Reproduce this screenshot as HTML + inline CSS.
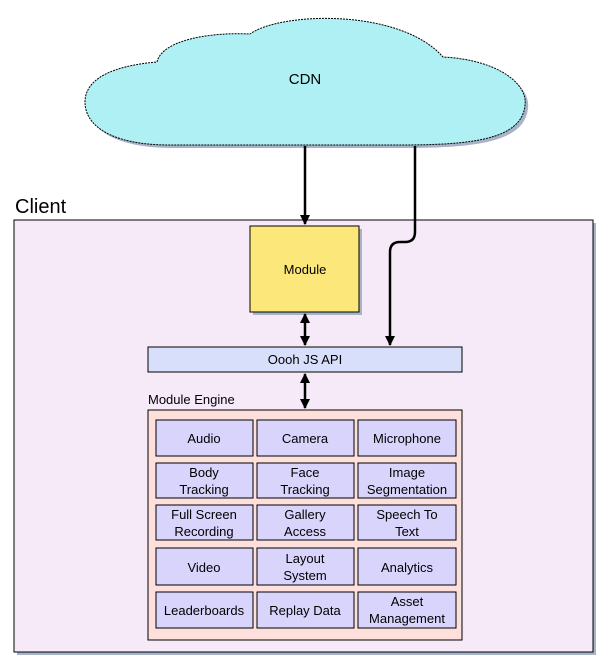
<!DOCTYPE html>
<html><head><style>
body{margin:0;background:#fff;width:606px;height:666px;overflow:hidden}
svg text{font-family:"Liberation Sans",sans-serif;fill:#000}
</style></head><body>
<svg width="606" height="666" viewBox="0 0 606 666" xmlns="http://www.w3.org/2000/svg">
<defs>
<marker id="a" viewBox="0 0 10 10" refX="9" refY="5" markerWidth="4" markerHeight="4" orient="auto-start-reverse"><path d="M0,0 L10,5 L0,10 Z" fill="#000"/></marker>
</defs>
<g transform="translate(3,3)" fill="#a9b3c8"><path d="M157,62 C162,40 210,32 250,34 C280,12 400,8 443,57 C500,60 528,85 525,105 C522,140 470,145 400,145 L170,145 C110,145 85,125 85,102 C85,80 110,66 157,62 Z"/></g>
<path d="M157,62 C162,40 210,32 250,34 C280,12 400,8 443,57 C500,60 528,85 525,105 C522,140 470,145 400,145 L170,145 C110,145 85,125 85,102 C85,80 110,66 157,62 Z" fill="#aef0f4" stroke="#000" stroke-width="1" stroke-dasharray="2,1"/>
<text x="305" y="84" font-size="15" text-anchor="middle">CDN</text>
<text x="15" y="213" font-size="20">Client</text>
<rect x="17" y="223" width="579" height="432" fill="#a9b3c8"/>
<rect x="14" y="220" width="579" height="432" fill="#f6eaf8" stroke="#000" stroke-width="1"/>
<rect x="253" y="229" width="109" height="86" fill="#a9b3c8"/>
<rect x="250" y="226" width="109" height="86" fill="#fbe77a" stroke="#000"/>
<text x="305" y="274" font-size="13" text-anchor="middle">Module</text>
<rect x="148" y="347" width="314" height="25" fill="#d8dffa" stroke="#000"/>
<text x="305" y="364" font-size="13" text-anchor="middle">Oooh JS API</text>
<text x="148" y="404" font-size="13">Module Engine</text>
<rect x="148" y="410" width="314" height="230" fill="#fde0db" stroke="#000"/>
<g fill="#d9d4fc" stroke="#000">
<rect x="156" y="420" width="97" height="36"/><rect x="257" y="420" width="97" height="36"/><rect x="358" y="420" width="98" height="36"/>
<rect x="156" y="463" width="97" height="35"/><rect x="257" y="463" width="97" height="35"/><rect x="358" y="463" width="98" height="35"/>
<rect x="156" y="505" width="97" height="35"/><rect x="257" y="505" width="97" height="35"/><rect x="358" y="505" width="98" height="35"/>
<rect x="156" y="548" width="97" height="37"/><rect x="257" y="548" width="97" height="37"/><rect x="358" y="548" width="98" height="37"/>
<rect x="156" y="592" width="97" height="36"/><rect x="257" y="592" width="97" height="36"/><rect x="358" y="592" width="98" height="36"/>
</g>
<g font-size="13" text-anchor="middle">
<text x="204" y="443">Audio</text><text x="305" y="443">Camera</text><text x="407" y="443">Microphone</text>
<text x="204" y="477">Body</text><text x="204" y="494">Tracking</text>
<text x="305" y="477">Face</text><text x="305" y="494">Tracking</text>
<text x="407" y="477">Image</text><text x="407" y="494">Segmentation</text>
<text x="204" y="519">Full Screen</text><text x="204" y="536">Recording</text>
<text x="305" y="519">Gallery</text><text x="305" y="536">Access</text>
<text x="407" y="519">Speech To</text><text x="407" y="536">Text</text>
<text x="204" y="572">Video</text>
<text x="305" y="563">Layout</text><text x="305" y="580">System</text>
<text x="407" y="572">Analytics</text>
<text x="204" y="615">Leaderboards</text><text x="305" y="615">Replay Data</text>
<text x="407" y="606">Asset</text><text x="407" y="623">Management</text>
</g>
<g stroke="#000" stroke-width="2.5" fill="none">
<line x1="305" y1="146" x2="305" y2="224" marker-end="url(#a)"/>
<path d="M415,146 L415,232 Q415,242 405,242 L400,242 Q390,242 390,252 L390,345" marker-end="url(#a)"/>
<line x1="305" y1="314" x2="305" y2="345" marker-start="url(#a)" marker-end="url(#a)"/>
<line x1="305" y1="374" x2="305" y2="408" marker-start="url(#a)" marker-end="url(#a)"/>
</g>
</svg>
</body></html>
